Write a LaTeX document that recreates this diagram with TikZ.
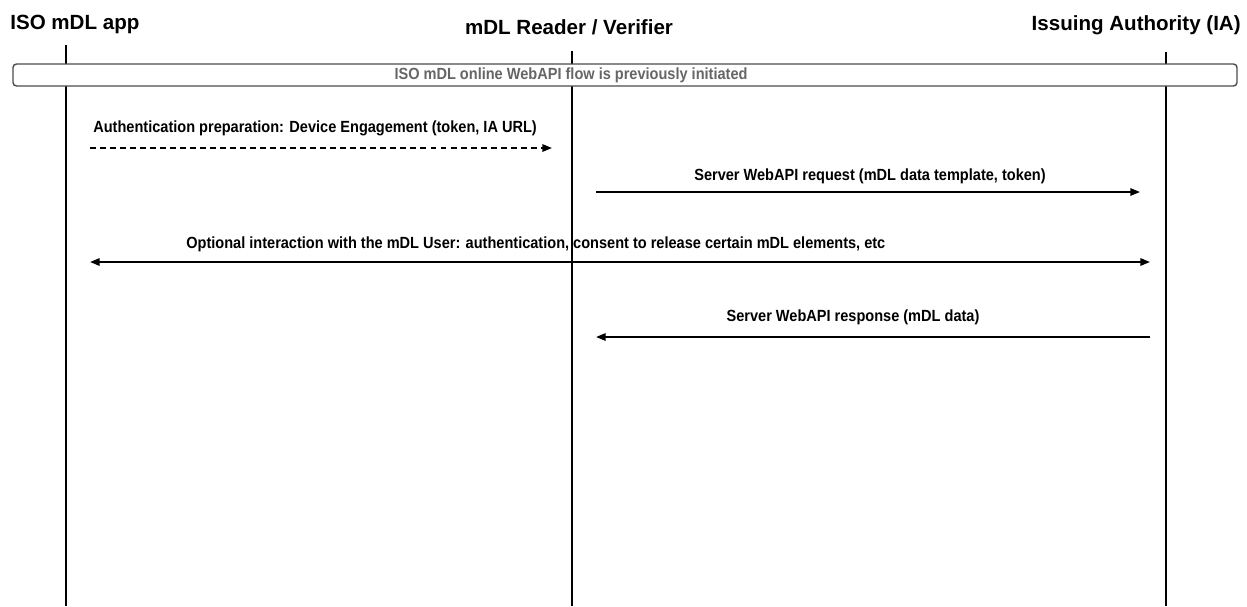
\documentclass[tikz,border=0pt]{standalone}
\usepackage{fontspec}
\setmainfont{Liberation Sans}
\newfontfamily\narrowsans[FakeStretch=0.9]{Liberation Sans}
\usetikzlibrary{arrows.meta}

\begin{document}
\begin{tikzpicture}[x=0.02cm, y=-0.02cm,
  actor/.style={font=\bfseries\fontsize{11.7}{14}\selectfont, inner sep=0pt},
  msg/.style={font=\narrowsans\bfseries\fontsize{9.2}{11}\selectfont, inner sep=0pt},
  lifeline/.style={line width=1.4pt, draw=black},
  call/.style={line width=1.1pt, draw=black, -{Triangle[length=5.5pt,width=4.2pt]}}]
\useasboundingbox (0,0) rectangle (1247,606);
% the three parties
\node[actor, anchor=base west] (app) at (10,29) {ISO mDL app};
\node[actor, anchor=base] (reader) at (569,34) {mDL Reader / Verifier};
\node[actor, anchor=base east] (issuer) at (1241,30) {Issuing Authority (IA)};
\coordinate (appT) at (66,45);     \coordinate (appB) at (66,606);
\coordinate (readerT) at (572,51); \coordinate (readerB) at (572,606);
\coordinate (issuerT) at (1166,52); \coordinate (issuerB) at (1166,606);
\path (appT) edge [lifeline] (appB);
\path (readerT) edge [lifeline] (readerB);
\path (issuerT) edge [lifeline] (issuerB);
% shared precondition
\node[draw=black!70, fill=white, line width=0.8pt, rounded corners=2pt,
      minimum width=1224*0.02cm, minimum height=22*0.02cm] (init) at (625,75) {};
\node[msg, text=black!60] (initlbl) at (571,75) {ISO mDL online WebAPI flow is previously initiated};
% messages
\coordinate (m1s) at (90,148);   \coordinate (m1e) at (552,148);
\coordinate (m2s) at (596,192);  \coordinate (m2e) at (1140,192);
\coordinate (m3s) at (90,262);   \coordinate (m3e) at (1150,262);
\coordinate (m4s) at (1150,337); \coordinate (m4e) at (596,337);
\node[msg, anchor=base west] (m1lbl) at (93,132) {Authentication preparation: Device Engagement (token, IA URL)};
\node[msg, anchor=base] (m2lbl) at (870,180) {Server WebAPI request (mDL data template, token)};
\node[msg, anchor=base west] (m3lbl) at (186,248) {Optional interaction with the mDL User: authentication, consent to release certain mDL elements, etc};
\node[msg, anchor=base] (m4lbl) at (853,321) {Server WebAPI response (mDL data)};
\path (m1s) edge [call, dash pattern=on 3.4pt off 2.3pt] (m1e);
\path (m2s) edge [call] (m2e);
\path (m3s) edge [call, {Triangle[length=5.5pt,width=4.2pt]}-{Triangle[length=5.5pt,width=4.2pt]}] (m3e);
\path (m4s) edge [call] (m4e);
\end{tikzpicture}
\end{document}
